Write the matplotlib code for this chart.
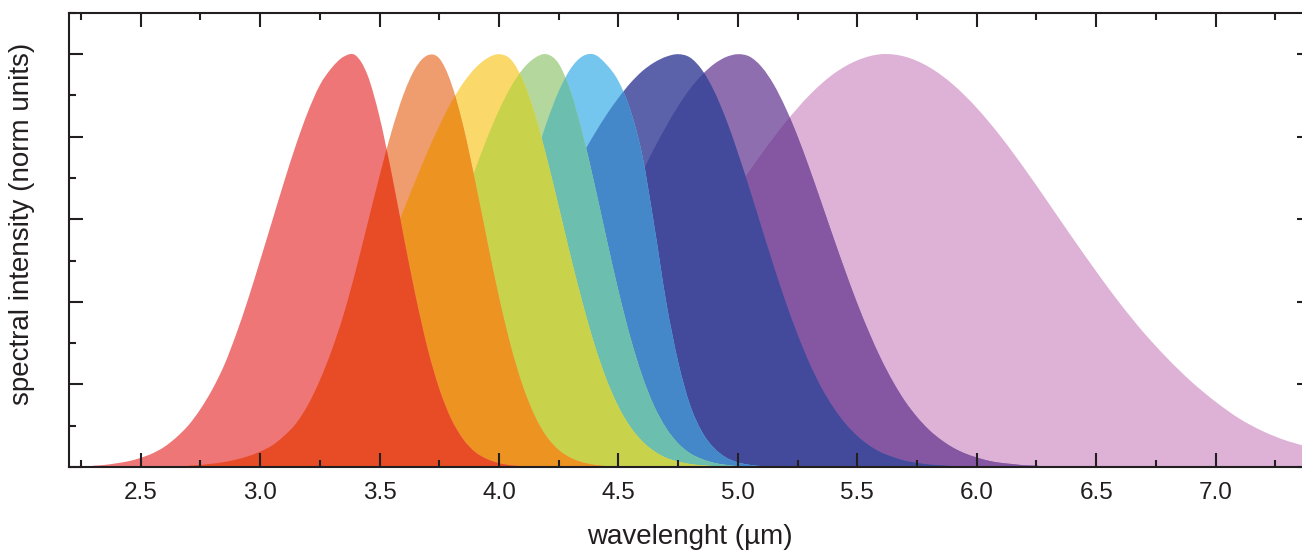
import numpy as np
import matplotlib
matplotlib.use('Agg')
import matplotlib.pyplot as plt
from matplotlib.path import Path
from matplotlib.patches import PathPatch
from matplotlib.ticker import MultipleLocator

plt.rcParams['font.family'] = ['Liberation Sans', 'DejaVu Sans']

step = 0.05

red_start = 2.30
red = [0.003, 0.005, 0.009, 0.014, 0.022, 0.033, 0.049, 0.072, 0.101, 0.140,
       0.188, 0.247, 0.322, 0.407, 0.500, 0.595, 0.690, 0.780, 0.860, 0.925,
       0.967, 0.994, 0.997, 0.949, 0.848, 0.712, 0.561, 0.416, 0.289, 0.189,
       0.116, 0.067, 0.036, 0.019, 0.009, 0.004, 0.002, 0.0]

orange_start = 2.70
orange = [0.003, 0.005, 0.008, 0.012, 0.018, 0.026, 0.037, 0.052, 0.075, 0.105,
          0.150, 0.210, 0.283, 0.370, 0.475, 0.590, 0.705, 0.812, 0.902, 0.966,
          0.997, 0.990, 0.930, 0.826, 0.693, 0.549, 0.411, 0.291, 0.195, 0.123,
          0.073, 0.041, 0.022, 0.011, 0.005, 0.002, 0.0]

yellow_start = 2.55
yellow = [0.002, 0.004, 0.005, 0.008, 0.011, 0.016, 0.022, 0.030, 0.041, 0.056,
          0.073, 0.096, 0.123, 0.156, 0.195, 0.240, 0.291, 0.348, 0.411, 0.478,
          0.549, 0.621, 0.693, 0.762, 0.826, 0.883, 0.930, 0.966, 0.990, 1.000,
          0.987, 0.937, 0.855, 0.749, 0.631, 0.510, 0.397, 0.296, 0.212, 0.146,
          0.097, 0.062, 0.038, 0.022, 0.013, 0.007, 0.004, 0.002, 0.0]

green_start = 2.90
green = [0.002, 0.003, 0.005, 0.008, 0.012, 0.018, 0.026, 0.037, 0.052, 0.072,
         0.097, 0.128, 0.167, 0.214, 0.268, 0.331, 0.401, 0.477, 0.558, 0.639,
         0.720, 0.796, 0.864, 0.921, 0.964, 0.991, 1.000, 0.977, 0.910, 0.808,
         0.685, 0.554, 0.427, 0.314, 0.220, 0.147, 0.094, 0.057, 0.033, 0.019,
         0.010, 0.005, 0.002, 0.0]

lightblue_start = 3.35
lightblue = [0.003, 0.005, 0.008, 0.014, 0.022, 0.034, 0.052, 0.077, 0.110, 0.154,
             0.210, 0.278, 0.358, 0.448, 0.546, 0.647, 0.745, 0.835, 0.910, 0.965,
             0.995, 0.999, 0.975, 0.935, 0.865, 0.755, 0.585, 0.400, 0.255, 0.150,
             0.085, 0.046, 0.023, 0.011, 0.005, 0.002, 0.0]

darkblue_start = 2.90
darkblue = [0.003, 0.004, 0.006, 0.008, 0.011, 0.014, 0.018, 0.023, 0.030, 0.037,
            0.047, 0.059, 0.073, 0.089, 0.108, 0.131, 0.156, 0.185, 0.218, 0.254,
            0.294, 0.338, 0.385, 0.435, 0.487, 0.541, 0.596, 0.650, 0.705, 0.757,
            0.807, 0.853, 0.894, 0.930, 0.959, 0.980, 0.994, 1.000, 0.992, 0.962,
            0.911, 0.843, 0.761, 0.672, 0.579, 0.487, 0.400, 0.321, 0.251, 0.192,
            0.144, 0.105, 0.075, 0.052, 0.035, 0.024, 0.015, 0.010, 0.006, 0.004,
            0.002, 0.0]

purple_start = 3.35
purple = [0.004, 0.006, 0.008, 0.011, 0.014, 0.019, 0.025, 0.032, 0.042, 0.054,
          0.068, 0.085, 0.106, 0.130, 0.158, 0.191, 0.228, 0.269, 0.315, 0.365,
          0.418, 0.475, 0.534, 0.594, 0.655, 0.714, 0.772, 0.825, 0.874, 0.916,
          0.950, 0.976, 0.993, 1.000, 0.994, 0.969, 0.927, 0.870, 0.801, 0.723,
          0.640, 0.556, 0.474, 0.396, 0.325, 0.261, 0.206, 0.159, 0.121, 0.090,
          0.066, 0.047, 0.033, 0.023, 0.015, 0.010, 0.007, 0.004, 0.003, 0.0]

# the broad one is read every 0.1 um
pink_start = 3.30
pink_step = 0.1
pink = [0.004, 0.007, 0.010, 0.016, 0.023, 0.034, 0.049, 0.069, 0.095, 0.128,
        0.169, 0.219, 0.278, 0.346, 0.422, 0.503, 0.589, 0.676, 0.759, 0.835,
        0.901, 0.952, 0.985, 1.000, 0.994, 0.969, 0.927, 0.870, 0.801, 0.723,
        0.640, 0.556, 0.474, 0.396, 0.325, 0.262, 0.206, 0.158, 0.117, 0.086,
        0.063, 0.047]

# (start, step, values, colour alone, colour where it covers its right neighbour)
bands = [
    (red_start, step, red, '#ee7676', '#e84c26'),
    (orange_start, step, orange, '#ef9c6e', '#ed9322'),
    (yellow_start, step, yellow, '#fbd86a', '#c8d24a'),
    (green_start, step, green, '#b3d79c', '#6cbfae'),
    (lightblue_start, step, lightblue, '#74c6ee', '#4588c9'),
    (darkblue_start, step, darkblue, '#5c62a9', '#434a9b'),
    (purple_start, step, purple, '#8e6eaf', '#8557a3'),
    (pink_start, pink_step, pink, '#ddb2d6', None),
]


def band_path(start, dx, values):
    # closed area under the sampled points, drawn as a smooth (Catmull-Rom) outline
    wl = np.round(start + dx * np.arange(len(values)), 2)
    pts = np.column_stack([wl, values])
    ext = np.vstack([pts[0], pts, pts[-1]])
    verts = [(wl[0], 0.0), tuple(pts[0])]
    codes = [Path.MOVETO, Path.LINETO]
    for k in range(len(pts) - 1):
        p0, p1, p2, p3 = ext[k], ext[k + 1], ext[k + 2], ext[k + 3]
        verts += [tuple(p1 + (p2 - p0) / 6), tuple(p2 - (p3 - p1) / 6), tuple(p2)]
        codes += [Path.CURVE4] * 3
    verts += [(wl[-1], 0.0), (wl[0], 0.0)]
    codes += [Path.LINETO, Path.CLOSEPOLY]
    return Path(verts, codes)


fig = plt.figure(figsize=(13.02, 5.5), dpi=100)
ax = fig.add_axes([0.053, 0.151, 0.954, 0.8255])

# right to left, so each band lies over its right neighbour
right_patch = None
for start, dx, values, alone, covered in reversed(bands):
    path = band_path(start, dx, values)
    patch = PathPatch(path, facecolor=alone, edgecolor='none')
    ax.add_patch(patch)
    if right_patch is not None:
        over = PathPatch(path, facecolor=covered, edgecolor='none')
        ax.add_patch(over)
        over.set_clip_path(right_patch)
    right_patch = patch

ax.set_xlim(2.2, 7.4)
ax.set_ylim(0, 1.1)

ax.xaxis.set_major_locator(MultipleLocator(0.5))
ax.xaxis.set_minor_locator(MultipleLocator(0.25))
ax.yaxis.set_major_locator(MultipleLocator(0.2))
ax.yaxis.set_minor_locator(MultipleLocator(0.1))
ax.tick_params(which='both', direction='in', top=True, right=True,
               labelleft=False, color='#231f20', width=1.5)
ax.tick_params(which='major', length=10, labelsize=17.5, pad=11,
               labelcolor='#231f20')
ax.tick_params(which='minor', length=5)

for spine in ax.spines.values():
    spine.set_linewidth(1.5)
    spine.set_color('#231f20')

ax.set_xlabel('wavelenght (\u00b5m)', fontsize=20, labelpad=14, color='#231f20')
ax.set_ylabel('spectral intensity (norm units)', fontsize=20, color='#231f20')
ax.yaxis.set_label_coords(-0.027, 0.536)

fig.savefig('out.png', dpi=100)
